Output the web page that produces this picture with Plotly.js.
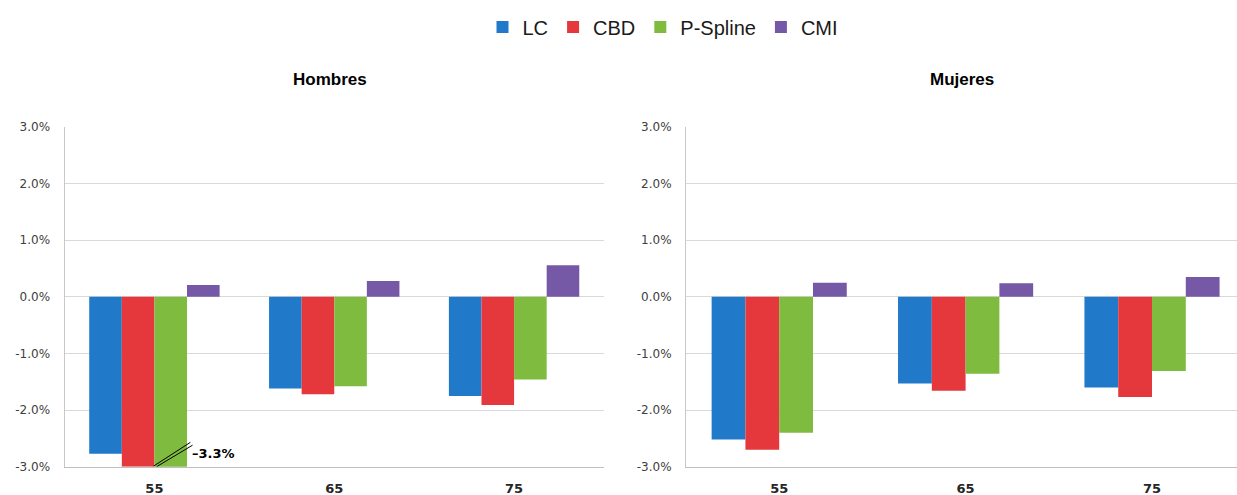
<!DOCTYPE html>
<html><head><meta charset="utf-8">
<script src="https://cdn.plot.ly/plotly-3.0.1.min.js"></script>
<style>html,body{margin:0;padding:0;background:#fff}</style>
</head><body><div id="chart" style="width:1237px;height:495px"></div>
<script>
const ages = ['55','65','75'];
const seriesNames = ['LC','CBD','P-Spline','CMI'];
const seriesColors = ['#2179c9','#e5383c','#7fbb3e','#7659a6'];
const hombresLC = [-2.77,-1.62,-1.75];
const hombresCBD = [-3.0,-1.72,-1.91];
const hombresPSpline = [-3.3,-1.58,-1.46];
const hombresCMI = [0.21,0.28,0.56];
const mujeresLC = [-2.52,-1.53,-1.60];
const mujeresCBD = [-2.70,-1.66,-1.77];
const mujeresPSpline = [-2.40,-1.36,-1.31];
const mujeresCMI = [0.25,0.24,0.35];
const yTickVals = [-3,-2,-1,0,1,2,3];
const yTickText = ['-3.0%','-2.0%','-1.0%','0.0%','1.0%','2.0%','3.0%'];
const panelTitles = ['Hombres','Mujeres'];
const brokenLabel = '–3.3%';

const hombres = [hombresLC, hombresCBD, hombresPSpline, hombresCMI];
const mujeres = [mujeresLC, mujeresCBD, mujeresPSpline, mujeresCMI];

const W = 1237, H = 495;
const px = v => v / W, py = v => 1 - v / H;

const traces = [];
seriesNames.forEach((name, i) => {
  traces.push({type:'bar', name, x: ages, y: hombres[i], xaxis:'x', yaxis:'y',
    marker:{color: seriesColors[i]}, legendgroup: name, showlegend: true, hoverinfo:'none'});
});
seriesNames.forEach((name, i) => {
  traces.push({type:'bar', name, x: ages, y: mujeres[i], xaxis:'x2', yaxis:'y2',
    marker:{color: seriesColors[i]}, legendgroup: name, showlegend: false, hoverinfo:'none'});
});

const tickFont = {family:'DejaVu Sans, sans-serif', size:12, color:'#404040'};
const xFont = {family:'DejaVu Sans, sans-serif', size:13, color:'#262626', weight:'bold'};
const yDomain = [1 - 466.7 / H, 1 - 127 / H];

function yAx(anchor){
  return {domain: yDomain, range:[-3,3], anchor, tickvals: yTickVals, ticktext: yTickText,
    showgrid:true, gridcolor:'#d9d9d9', gridwidth:1, zeroline:false,
    showline:true, linecolor:'#c8c8c8', ticks:'outside', ticklen:11, tickcolor:'rgba(0,0,0,0)',
    tickfont: tickFont, fixedrange:true};
}
function xAx(anchor, domain, range){
  return {domain, range, anchor, type:'category', showgrid:false, zeroline:false,
    showline:true, linecolor:'#bfbfbf', ticks:'outside', ticklen:10, tickcolor:'rgba(0,0,0,0)',
    tickfont: xFont, fixedrange:true};
}

const layout = {
  width: W, height: H, margin:{l:0,r:0,t:0,b:0},
  paper_bgcolor:'#ffffff', plot_bgcolor:'#ffffff',
  barmode:'group', bargap:0.275, bargroupgap:0,
  xaxis: xAx('y', [px(64.5), px(604)], [-0.5, 2.5]),
  yaxis: yAx('x'),
  xaxis2: xAx('y2', [px(686), 1], [-0.5, 2.456]),
  yaxis2: yAx('x2'),
  showlegend: true,
  legend: {orientation:'h', x: px(663), xanchor:'center', y: py(27), yanchor:'middle',
    font:{family:'Liberation Sans, Arial, sans-serif', size:20, color:'#1a1a1a'}, traceorder:'normal'},
  annotations: [
    {text: panelTitles[0], xref:'paper', yref:'paper', x: px(330), y: py(79), xanchor:'center', yanchor:'middle', showarrow:false,
      font:{family:'Liberation Sans, Arial, sans-serif', size:17, color:'#000', weight:'bold'}},
    {text: panelTitles[1], xref:'paper', yref:'paper', x: px(962), y: py(79), xanchor:'center', yanchor:'middle', showarrow:false,
      font:{family:'Liberation Sans, Arial, sans-serif', size:17, color:'#000', weight:'bold'}},
    {text: brokenLabel, xref:'x', yref:'y', x: 0.2, y: -2.76, xanchor:'left', yanchor:'middle', showarrow:false,
      font:{family:'DejaVu Sans, sans-serif', size:13, color:'#000', weight:'bold'}}
  ],
  shapes: [
    {type:'line', xref:'x', yref:'y', x0:-0.005, y0:-2.99, x1:0.2, y1:-2.57, line:{color:'#000', width:1}},
    {type:'line', xref:'x', yref:'y', x0:0.012, y0:-3.0, x1:0.212, y1:-2.62, line:{color:'#000', width:1}}
  ]
};

Plotly.newPlot('chart', traces, layout, {displayModeBar:false, staticPlot:true});
</script></body></html>
